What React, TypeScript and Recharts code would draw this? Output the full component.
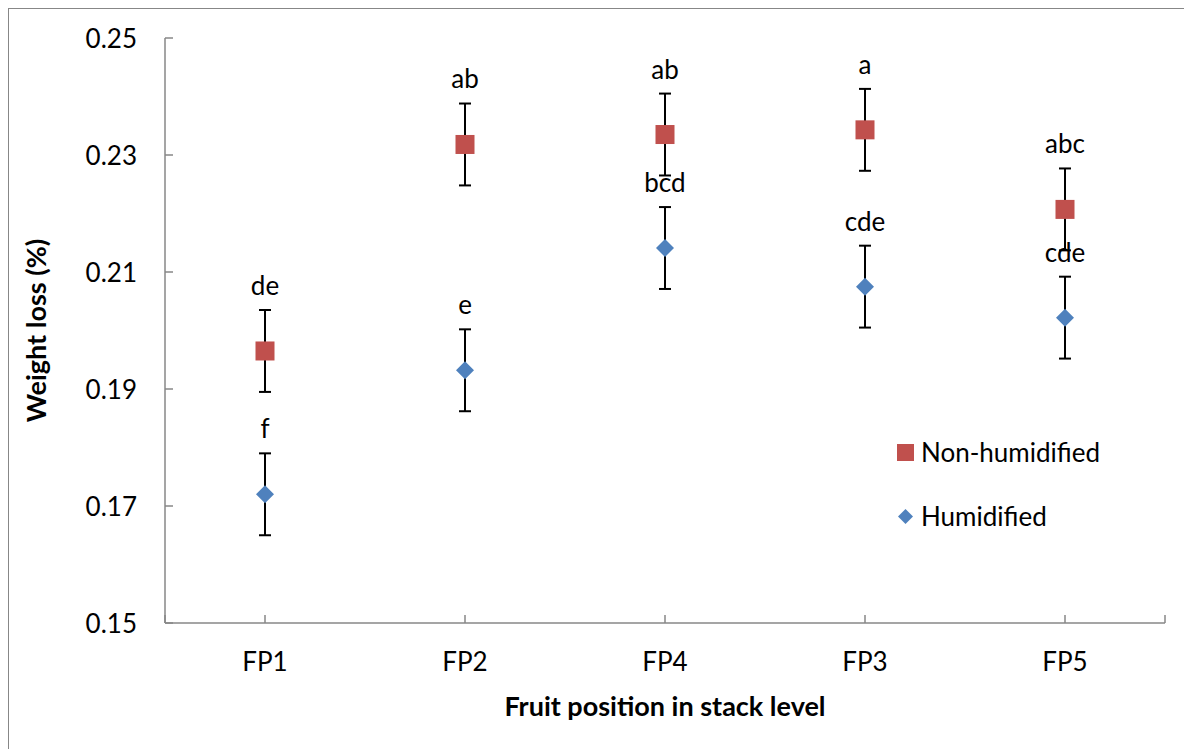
import React from 'react';
import { ScatterChart, Scatter, XAxis, YAxis, ErrorBar, LabelList, Legend } from 'recharts';

// Fruit positions, in the order they are plotted along the x axis
const categories = ['FP1', 'FP2', 'FP4', 'FP3', 'FP5'];

// Mean weight loss (%) per fruit position
const nonHumidified = [0.1965, 0.2318, 0.2335, 0.2343, 0.2207];
const humidified = [0.172, 0.1932, 0.2141, 0.2075, 0.2022];

// Error bar half-lengths
const nonHumidifiedErr = [0.007, 0.007, 0.007, 0.007, 0.007];
const humidifiedErr = [0.007, 0.007, 0.007, 0.007, 0.007];

// Significance letters written above each point
const nonHumidifiedGroups = ['de', 'ab', 'ab', 'a', 'abc'];
const humidifiedGroups = ['f', 'e', 'bcd', 'cde', 'cde'];

const yTicks = [0.15, 0.17, 0.19, 0.21, 0.23, 0.25];
const xTicks = [0.5, 1, 2, 3, 4, 5, 5.5];

const FONT = 'Lato, "Open Sans", sans-serif';
const AXIS = '#878787';
const RED = '#C0504D';
const BLUE = '#4F81BD';
const TEXT_SIZE = 26;
const TITLE_SIZE = 27;

const nonHumidifiedData = categories.map((c, i) => ({
  x: i + 1,
  y: nonHumidified[i],
  err: nonHumidifiedErr[i],
  group: nonHumidifiedGroups[i],
}));
const humidifiedData = categories.map((c, i) => ({
  x: i + 1,
  y: humidified[i],
  err: humidifiedErr[i],
  group: humidifiedGroups[i],
}));

const SquareMark = (p: any) => (
  <rect x={p.cx - 9.5} y={p.cy - 9.5} width={19} height={19} fill={RED} />
);

const DiamondMark = (p: any) => (
  <polygon
    points={`${p.cx},${p.cy - 9} ${p.cx + 9},${p.cy} ${p.cx},${p.cy + 9} ${p.cx - 9},${p.cy}`}
    fill={BLUE}
  />
);

// Letter placed a fixed distance above its point
const GroupLetter = (props: any) => {
  const vb = props.viewBox && props.viewBox.width !== undefined ? props.viewBox : props;
  const cx = vb.x + (vb.width || 0) / 2;
  const cy = vb.y + (vb.height || 0) / 2;
  return (
    <text
      x={cx}
      y={cy - 56}
      textAnchor="middle"
      fontSize={TEXT_SIZE}
      fontFamily={FONT}
      fill="#000"
    >
      {props.value}
    </text>
  );
};

// Category tick: short inward mark plus the position name below the axis
const CategoryTick = (props: any) => {
  const { x, y, payload } = props;
  const v = payload.value;
  const isCat = Number.isInteger(v);
  return (
    <g>
      <line x1={x} y1={y} x2={x} y2={y - 8} stroke={AXIS} strokeWidth={1.5} />
      {isCat && (
        <text
          x={x}
          y={y + 38}
          textAnchor="middle"
          dominantBaseline="central"
          fontSize={TEXT_SIZE}
          fontFamily={FONT}
          fill="#000"
        >
          {categories[v - 1]}
        </text>
      )}
    </g>
  );
};

// Value tick: inward mark plus the value to the left of the axis
const ValueTick = (props: any) => {
  const { x, y, payload } = props;
  return (
    <g>
      <line x1={x} y1={y} x2={x + 8} y2={y} stroke={AXIS} strokeWidth={1.5} />
      <text
        x={x - 28}
        y={y}
        textAnchor="end"
        dominantBaseline="central"
        fontSize={TEXT_SIZE}
        fontFamily={FONT}
        fill="#000"
      >
        {Number(payload.value).toFixed(2)}
      </text>
    </g>
  );
};

const YTitle = (props: any) => {
  const vb = props.viewBox;
  const cx = vb.x + 26;
  const cy = vb.y + vb.height / 2;
  return (
    <text
      x={cx}
      y={cy}
      transform={`rotate(-90 ${cx} ${cy})`}
      textAnchor="middle"
      dominantBaseline="central"
      fontSize={TITLE_SIZE}
      fontWeight="bold"
      fontFamily={FONT}
      fill="#000"
    >
      Weight loss (%)
    </text>
  );
};

const XTitle = (props: any) => {
  const vb = props.viewBox;
  const cx = vb.x + vb.width / 2;
  const cy = vb.y + 82;
  return (
    <text
      x={cx}
      y={cy}
      textAnchor="middle"
      dominantBaseline="central"
      fontSize={TITLE_SIZE}
      fontWeight="bold"
      fontFamily={FONT}
      fill="#000"
    >
      Fruit position in stack level
    </text>
  );
};

const legendItems = [
  { name: 'Non-humidified', color: RED, shape: 'square' },
  { name: 'Humidified', color: BLUE, shape: 'diamond' },
];

const LegendBox = () => (
  <div style={{ fontFamily: FONT, fontSize: TEXT_SIZE, color: '#000' }}>
    {legendItems.map((item, i) => (
      <div
        key={item.name}
        style={{
          display: 'flex',
          alignItems: 'center',
          height: 40,
          marginBottom: i === 0 ? 24 : 0,
        }}
      >
        <svg width={17} height={17} style={{ marginRight: 7, flex: 'none' }}>
          {item.shape === 'square' ? (
            <rect x={0} y={0} width={17} height={17} fill={item.color} />
          ) : (
            <polygon points="8.5,1 16,8.5 8.5,16 1,8.5" fill={item.color} />
          )}
        </svg>
        <span style={{ whiteSpace: 'nowrap' }}>{item.name}</span>
      </div>
    ))}
  </div>
);

export default function App() {
  return (
    <div
      style={{
        position: 'fixed',
        left: 0,
        top: 0,
        width: 1184,
        height: 749,
        overflow: 'hidden',
        background: '#fff',
        zIndex: 10,
      }}
    >
      <div
        style={{
          position: 'absolute',
          left: 8,
          top: 8,
          width: 1200,
          height: 760,
          borderTop: `1px solid ${AXIS}`,
          borderLeft: `1px solid ${AXIS}`,
          background: '#fff',
        }}
      >
        <ScatterChart
          width={1200}
          height={760}
          margin={{ top: 29, right: 44, bottom: 28, left: 0 }}
        >
          <XAxis
            type="number"
            dataKey="x"
            domain={[0.5, 5.5]}
            ticks={xTicks}
            interval={0}
            height={118}
            tickSize={0}
            tickMargin={0}
            tickLine={false}
            tick={<CategoryTick />}
            axisLine={{ stroke: AXIS, strokeWidth: 1.5 }}
            allowDecimals
            label={{ content: <XTitle /> }}
          />
          <YAxis
            type="number"
            dataKey="y"
            domain={[0.15, 0.25]}
            ticks={yTicks}
            interval={0}
            width={156}
            tickSize={0}
            tickMargin={0}
            tickLine={false}
            tick={<ValueTick />}
            axisLine={{ stroke: AXIS, strokeWidth: 1.5 }}
            label={{ content: <YTitle /> }}
          />
          <Legend
            layout="horizontal"
            verticalAlign="middle"
            align="center"
            content={<LegendBox />}
            wrapperStyle={{ position: 'absolute', left: 888, top: 423, width: 260 }}
          />
          <Scatter
            name="Humidified"
            data={humidifiedData}
            shape={<DiamondMark />}
            isAnimationActive={false}
          >
            <ErrorBar dataKey="err" direction="y" width={6} stroke="#000" strokeWidth={2} />
            <LabelList dataKey="group" content={<GroupLetter />} />
          </Scatter>
          <Scatter
            name="Non-humidified"
            data={nonHumidifiedData}
            shape={<SquareMark />}
            isAnimationActive={false}
          >
            <ErrorBar dataKey="err" direction="y" width={6} stroke="#000" strokeWidth={2} />
            <LabelList dataKey="group" content={<GroupLetter />} />
          </Scatter>
        </ScatterChart>
      </div>
    </div>
  );
}
